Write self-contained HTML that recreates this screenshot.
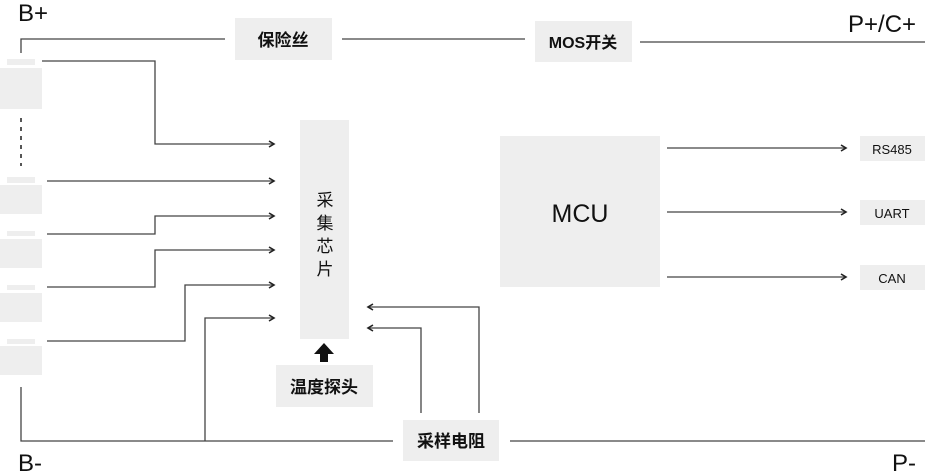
<!DOCTYPE html>
<html><head><meta charset="utf-8"><style>
html,body{margin:0;padding:0;background:#fff;width:928px;height:473px;overflow:hidden}
svg{display:block}
text{font-family:"Liberation Sans","Noto Sans CJK SC",sans-serif;fill:#111}
</style></head><body>
<svg width="928" height="473" viewBox="0 0 928 473" xmlns="http://www.w3.org/2000/svg">
<defs>
<marker id="a" markerWidth="8" markerHeight="8" refX="6" refY="4" orient="auto" markerUnits="userSpaceOnUse">
<path d="M1,1 L6,4 L1,7" fill="none" stroke="#222" stroke-width="1.6"/>
</marker>
</defs>
<g fill="#eeeeee">
<rect x="7" y="59" width="28" height="6"/><rect x="0" y="68" width="42" height="41"/>
<rect x="7" y="177" width="28" height="6"/><rect x="0" y="185" width="42" height="29"/>
<rect x="7" y="231" width="28" height="5"/><rect x="0" y="239" width="42" height="29"/>
<rect x="7" y="285" width="28" height="5"/><rect x="0" y="293" width="42" height="29"/>
<rect x="7" y="339" width="28" height="5"/><rect x="0" y="346" width="42" height="29"/>
<rect x="235" y="18" width="97" height="42"/>
<rect x="535" y="21" width="97" height="41"/>
<rect x="300" y="120" width="49" height="219"/>
<rect x="276" y="365" width="97" height="42"/>
<rect x="403" y="420" width="96" height="41"/>
<rect x="500" y="136" width="160" height="151"/>
<rect x="860" y="136" width="65" height="25"/>
<rect x="860" y="200" width="65" height="25"/>
<rect x="860" y="265" width="65" height="25"/>
</g>
<g fill="none" stroke="#444" stroke-width="1.3">
<path d="M21,53 V39 H225"/>
<path d="M342,39 H525"/>
<path d="M640,42 H925"/>
<path d="M21,118 V166" stroke-dasharray="4,5" stroke-width="1.8"/>
<path d="M42,61 H155 V144 H274" marker-end="url(#a)"/>
<path d="M47,181 H274" marker-end="url(#a)"/>
<path d="M47,234 H155 V216 H274" marker-end="url(#a)"/>
<path d="M47,287 H155 V250 H274" marker-end="url(#a)"/>
<path d="M47,341 H185 V285 H274" marker-end="url(#a)"/>
<path d="M205,441 V318 H274" marker-end="url(#a)"/>
<path d="M21,387 V441 H393"/>
<path d="M510,441 H925"/>
<path d="M479,413 V307 H368" marker-end="url(#a)"/>
<path d="M421,413 V328 H368" marker-end="url(#a)"/>
<path d="M667,148 H846" marker-end="url(#a)"/>
<path d="M667,212 H846" marker-end="url(#a)"/>
<path d="M667,277 H846" marker-end="url(#a)"/>
</g>
<path d="M324,343 L334,354 L328,354 L328,362 L320,362 L320,354 L314,354 Z" fill="#111"/>
<text x="18" y="21" font-size="24">B+</text>
<text x="18" y="471" font-size="24">B-</text>
<text x="848" y="32" font-size="24">P+/C+</text>
<text x="892" y="471" font-size="24">P-</text>
<text x="283" y="46" font-size="17" font-weight="bold" text-anchor="middle">保险丝</text>
<text x="583" y="48" font-size="16" font-weight="bold" text-anchor="middle">MOS开关</text>
<text x="324" y="393" font-size="17" font-weight="bold" text-anchor="middle">温度探头</text>
<text x="451" y="447" font-size="17" font-weight="bold" text-anchor="middle">采样电阻</text>
<g font-size="17" text-anchor="middle">
<text x="325" y="206">采</text>
<text x="325" y="229">集</text>
<text x="325" y="252">芯</text>
<text x="325" y="275">片</text>
</g>
<text x="580" y="222" font-size="25" text-anchor="middle">MCU</text>
<text x="892" y="154" font-size="13" text-anchor="middle" fill="#333">RS485</text>
<text x="892" y="218" font-size="13" text-anchor="middle" fill="#333">UART</text>
<text x="892" y="283" font-size="13" text-anchor="middle" fill="#333">CAN</text>
</svg>
</body></html>
